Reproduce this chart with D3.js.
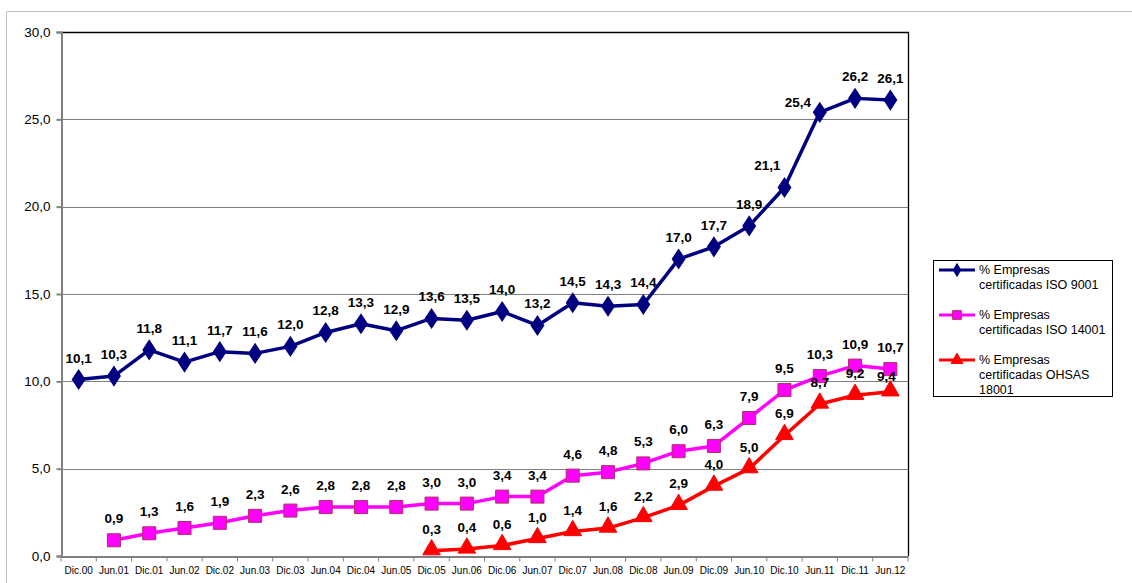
<!DOCTYPE html>
<html lang="es">
  <head>
    <meta charset="utf-8">
    <style>
      body { margin: 0; background: #fff; }
      svg { font-family: "Liberation Sans", Arial, sans-serif; }
      .lbl { font-weight: bold; font-size: 13.5px; fill: #000; }
      .y-axis text { font-size: 13.5px; fill: #000; }
      .x-axis text { font-size: 10px; fill: #000; }
      .legend text { font-size: 12.5px; fill: #000; }
    </style>
  </head>
  <body>
  <script src="https://d3js.org/d3.v7.min.js"></script>
  <script>
  var width = 1132;
  var height = 583;

  var periods = ["Dic.00","Jun.01","Dic.01","Jun.02","Dic.02","Jun.03","Dic.03","Jun.04","Dic.04","Jun.05",
                 "Dic.05","Jun.06","Dic.06","Jun.07","Dic.07","Jun.08","Dic.08","Jun.09","Dic.09","Jun.10",
                 "Dic.10","Jun.11","Dic.11","Jun.12"];

  var iso9001 = [10.1,10.3,11.8,11.1,11.7,11.6,12.0,12.8,13.3,12.9,13.6,13.5,14.0,13.2,14.5,14.3,14.4,17.0,17.7,18.9,21.1,25.4,26.2,26.1];
  var iso14001 = [null,0.9,1.3,1.6,1.9,2.3,2.6,2.8,2.8,2.8,3.0,3.0,3.4,3.4,4.6,4.8,5.3,6.0,6.3,7.9,9.5,10.3,10.9,10.7];
  var ohsas = [null,null,null,null,null,null,null,null,null,null,0.3,0.4,0.6,1.0,1.4,1.6,2.2,2.9,4.0,5.0,6.9,8.7,9.2,9.4];

  var yTicks = [0, 5, 10, 15, 20, 25, 30];

  var seriesNames = ["% Empresas certificadas ISO 9001", "% Empresas certificadas ISO 14001", "% Empresas certificadas OHSAS 18001"];

  var margin = {left: 61, top: 32, right: 908, bottom: 556};

  var svg = d3.select("body")
    .append("svg")
    .attr("width", width)
    .attr("height", height);

  // outer chart frame (only top and left edges show)
  svg.append("path")
    .attr("d", "M6.5," + height + "V11.5H" + width)
    .attr("fill", "none")
    .attr("stroke", "#c0c0c0")
    .attr("stroke-width", 1);

  var x = d3.scaleBand()
    .domain(periods)
    .range([margin.left, margin.right]);

  var y = d3.scaleLinear()
    .domain([0, 30])
    .range([margin.bottom, margin.top]);

  var fmt = function(v) { return d3.format(".1f")(v).replace(".", ","); };

  // gridlines
  svg.append("g")
    .selectAll("line")
    .data(yTicks.slice(1, -1))
    .enter().append("line")
    .attr("x1", margin.left).attr("x2", margin.right)
    .attr("y1", function(d) { return Math.round(y(d)) + 0.5; })
    .attr("y2", function(d) { return Math.round(y(d)) + 0.5; })
    .attr("stroke", "#808080")
    .attr("stroke-width", 1);

  // plot area border top/right
  svg.append("path")
    .attr("d", "M" + margin.left + "," + (margin.top + 0.5) + "H" + (margin.right + 0.5) + "V" + margin.bottom)
    .attr("fill", "none")
    .attr("stroke", "#000")
    .attr("stroke-width", 1.3);

  var yAxis = svg.append("g")
    .attr("class", "y-axis")
    .attr("transform", "translate(" + (margin.left + 0.5) + ",0)")
    .call(d3.axisLeft(y).tickValues(yTicks).tickSize(5).tickPadding(6).tickFormat(fmt));
  yAxis.selectAll("line, path").attr("stroke", "#808080").attr("stroke-width", 2);

  var xAxis = svg.append("g")
    .attr("class", "x-axis")
    .attr("transform", "translate(0," + (margin.bottom + 0.5) + ")")
    .call(d3.axisBottom(x).tickSize(0).tickPadding(10));
  xAxis.select(".domain").attr("stroke", "#808080").attr("stroke-width", 2);

  // tick marks between categories
  xAxis.append("g")
    .selectAll("line")
    .data(d3.range(periods.length + 1))
    .enter().append("line")
    .attr("x1", function(i) { return margin.left + i * x.step(); })
    .attr("x2", function(i) { return margin.left + i * x.step(); })
    .attr("y1", 0).attr("y2", 5)
    .attr("stroke", "#808080")
    .attr("stroke-width", 1);

  var cx = function(i) { return x(periods[i]) + x.bandwidth() / 2; };

  var series = [
    {name: seriesNames[0], values: iso9001, color: "#000080", stroke: "#000080", symbol: d3.symbolDiamond, size: 105},
    {name: seriesNames[1], values: iso14001, color: "#ff00ff", stroke: "#b03060", symbol: d3.symbolSquare, size: 170},
    {name: seriesNames[2], values: ohsas, color: "#ff0000", stroke: "#ff0000", symbol: d3.symbolTriangle, size: 135}
  ];

  // a few labels were nudged by hand in the original
  var nudge = {"0-20": [-17, 0], "0-21": [-22, 12], "2-23": [-4, 6]};

  var line = d3.line()
    .defined(function(d) { return d.v != null; })
    .x(function(d) { return cx(d.i); })
    .y(function(d) { return y(d.v); });

  series.forEach(function(s, si) {
    var pts = s.values.map(function(v, i) { return {v: v, i: i}; });
    var g = svg.append("g");

    g.append("path")
      .datum(pts)
      .attr("d", line)
      .attr("fill", "none")
      .attr("stroke", s.color)
      .attr("stroke-width", 3.5)
      .attr("stroke-linejoin", "round");

    var valid = pts.filter(function(d) { return d.v != null; });

    g.selectAll("path.mk")
      .data(valid)
      .enter().append("path")
      .attr("class", "mk")
      .attr("d", d3.symbol().type(s.symbol).size(s.size))
      .attr("transform", function(d) {
        var dy = s.symbol === d3.symbolTriangle ? -1 : 0;
        return "translate(" + cx(d.i) + "," + (y(d.v) + dy) + ")" + (s.symbol === d3.symbolDiamond ? " scale(1.15,1)" : "");
      })
      .attr("fill", s.color)
      .attr("stroke", s.stroke)
      .attr("stroke-width", 1);

    g.selectAll("text")
      .data(valid)
      .enter().append("text")
      .attr("class", "lbl")
      .attr("text-anchor", "middle")
      .attr("x", function(d) { var n = nudge[si + "-" + d.i]; return cx(d.i) + (n ? n[0] : 0); })
      .attr("y", function(d) { var n = nudge[si + "-" + d.i]; return y(d.v) - 17 + (n ? n[1] : 0); })
      .text(function(d) { return fmt(d.v); });
  });

  // legend
  var legend = svg.append("g").attr("class", "legend");
  legend.append("rect")
    .attr("x", 933.5).attr("y", 260.5)
    .attr("width", 179).attr("height", 136)
    .attr("fill", "#fff")
    .attr("stroke", "#000")
    .attr("stroke-width", 1);

  var legendLines = [
    ["% Empresas", "certificadas ISO 9001"],
    ["% Empresas", "certificadas ISO 14001"],
    ["% Empresas", "certificadas OHSAS", "18001"]
  ];

  series.forEach(function(s, si) {
    var ly = 270 + si * 45;
    legend.append("line")
      .attr("x1", 939).attr("x2", 975)
      .attr("y1", ly).attr("y2", ly)
      .attr("stroke", s.color)
      .attr("stroke-width", 3);
    legend.append("path")
      .attr("d", d3.symbol().type(s.symbol).size(s.size * 0.45))
      .attr("transform", "translate(957," + ly + ")")
      .attr("fill", s.color)
      .attr("stroke", s.stroke);
    legend.selectAll(null)
      .data(legendLines[si])
      .enter().append("text")
      .attr("x", 979)
      .attr("y", function(d, k) { return ly + 4 + k * 15; })
      .text(function(d) { return d; });
  });
  </script>
  </body>
</html>
